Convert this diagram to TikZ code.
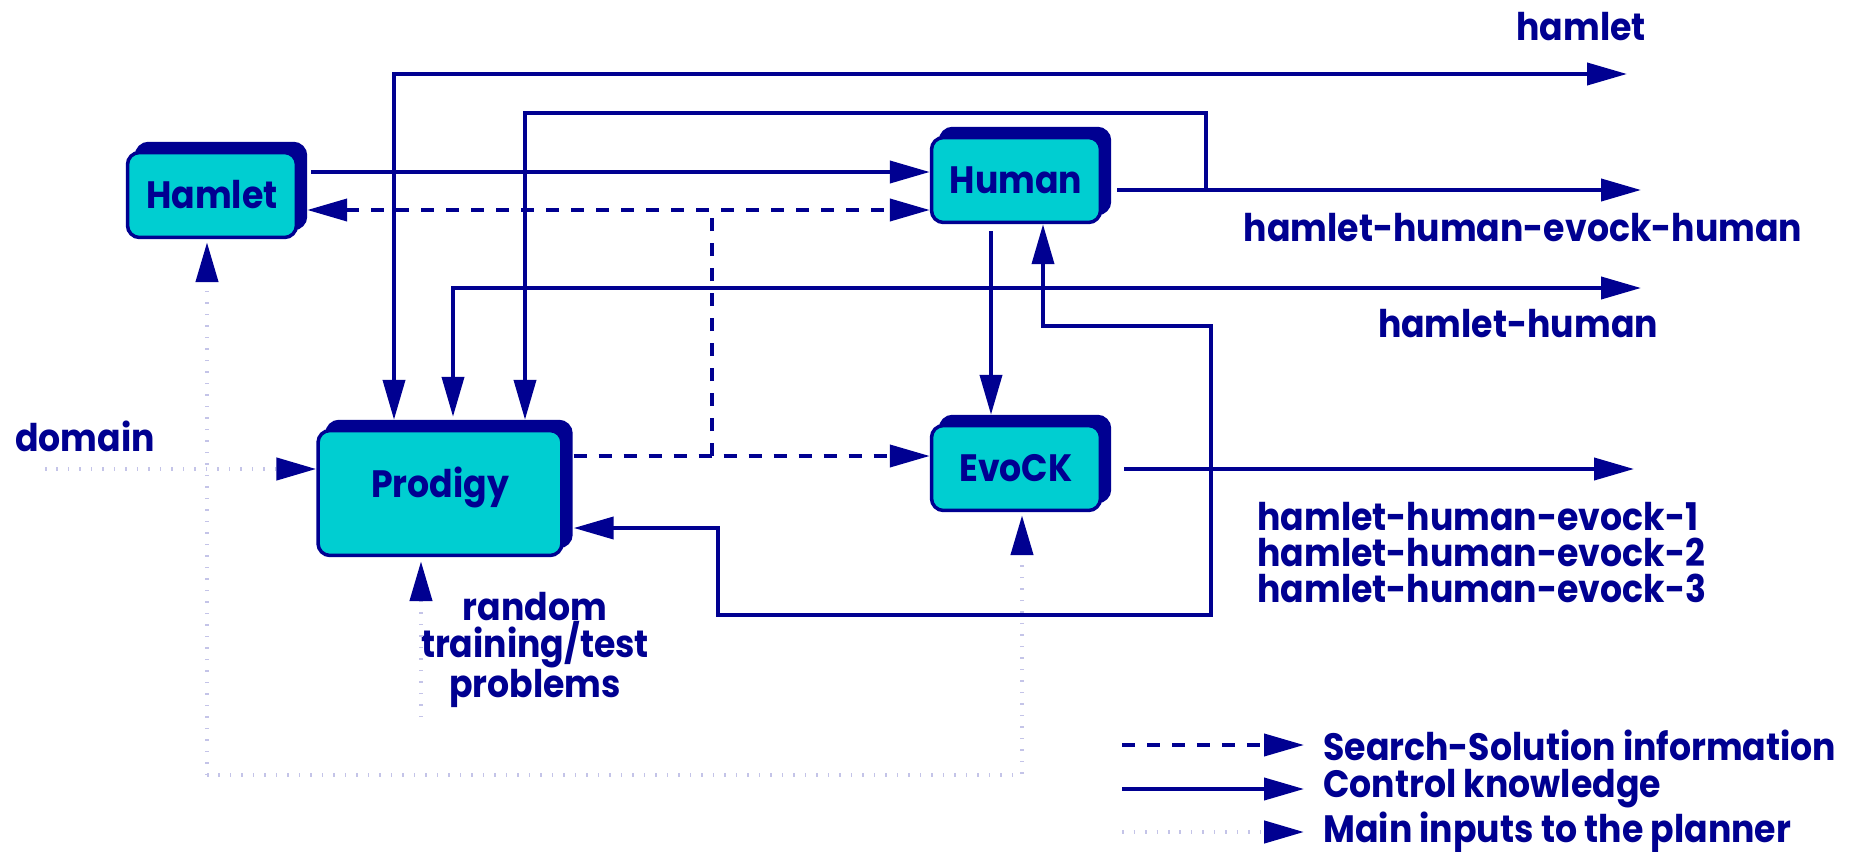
\documentclass[tikz,border=0pt]{standalone}
\usepackage{fontspec}
\setmainfont{Poppins}[FakeStretch=0.91]
\usetikzlibrary{arrows.meta,shadows}

\definecolor{ckblue}{RGB}{0,0,145}
\definecolor{boxcyan}{RGB}{0,206,209}
\definecolor{inpgray}{RGB}{196,196,232}
\newcommand\lblfont{\fontsize{21.7pt}{20.5pt}\selectfont\bfseries}

\tikzset{
  planner/.style={draw=ckblue, fill=boxcyan, line width=0.07cm, rounded corners=0.24cm,
    minimum width=3.38cm, minimum height=1.7cm, text=ckblue, font=\lblfont,
    copy shadow={shadow xshift=0.18cm, shadow yshift=0.18cm, fill=ckblue, draw=ckblue}},
  ctrl/.style={ckblue, line width=0.08cm},
  srch/.style={ckblue, line width=0.08cm, dash pattern=on 0.26cm off 0.24cm},
  inp/.style={inpgray, line width=0.09cm, dash pattern=on 0.03cm off 0.2cm,
    -{Triangle[length=8mm,width=4.4mm,ckblue]}},
  lbl/.style={text=ckblue, font=\lblfont, inner sep=0pt},
}

\begin{document}
\begin{tikzpicture}[x=0.02cm, y=-0.02cm, >={Triangle[length=8mm,width=4.4mm]}]
\useasboundingbox (0,0) rectangle (1860,852);

% Learners and planner
\node[planner] (hamlet) at (212,195) {Hamlet};
\node[planner] (human) at (1016,180) {Human};
\node[planner, minimum width=4.88cm, minimum height=2.5cm] (prodigy) at (440,493)
  {\raisebox{0.42cm}{Prodigy}};
\node[planner] (evock) at (1016,468) {EvoCK};

% Outputs
\node[lbl] (outHamlet) at (1581,27) {hamlet};
\node[lbl] (outHHEH) at (1523,228) {hamlet-human-evock-human};
\node[lbl] (outHH) at (1518,324) {hamlet-human};
\node[lbl, anchor=west, align=left] (outHHE) at (1257,553)
  {hamlet-human-evock-1\\hamlet-human-evock-2\\hamlet-human-evock-3};
\node[lbl] (domain) at (85,436) {domain};
\node[lbl, align=center, font=\fontsize{21.7pt}{21pt}\selectfont\bfseries] (problems) at (535,650)
  {random\\training/test\\problems};

\coordinate (endHamlet) at (1627,74);
\coordinate (endHHEH) at (1641,190);
\coordinate (endHH) at (1641,288);
\coordinate (endHHE) at (1634,469);

% Control knowledge
\draw[ctrl,->,shorten <=0.26cm] (hamlet.east |- 0,172) -- (human.west |- 0,172);
\draw[ctrl,<->,shorten <=0.18cm] (prodigy.north -| 394,0) |- (endHamlet);
\draw[ctrl,->,shorten <=0.3cm] (human.east |- 0,190) -- (endHHEH);
\coordinate (forkHHEH) at (1206,190);
\draw[ctrl,->,shorten >=0.18cm] (forkHHEH) |- (525,113) -- (prodigy.north -| 525,0);
\draw[ctrl,<->,shorten <=0.24cm] (prodigy.north -| 453,0) |- (endHH);
\draw[ctrl,->,shorten <=0.14cm,shorten >=0.18cm] (human.south -| 991,0) -- (evock.north -| 991,0);
\draw[ctrl,->,shorten <=0.44cm] (evock.east |- endHHE) -- (endHHE);
\coordinate (backA) at (1211,326);
\coordinate (backB) at (718,615);
\draw[ctrl,<->,shorten >=0.2cm] (human.south -| 1043,0) |- (backA) |- (backB)
  |- (prodigy.east |- 0,528);

% Search-solution information
\draw[srch,<->,shorten <=0.18cm] (hamlet.east |- 0,210) -- (human.west |- 0,210);
\coordinate (forkSrch) at (712,456);
\draw[srch,->,shorten <=0.2cm] (prodigy.east |- forkSrch) -- (evock.west |- forkSrch);
\draw[srch] (forkSrch) -- (forkSrch |- 0,210);

% Main inputs
\coordinate (domainIn) at (45,469);
\coordinate (cornerL) at (207,775);
\coordinate (problemsIn) at (421,717);
\draw[inp] (domainIn) -- (prodigy.west |- domainIn);
\draw[inp, shorten >=0.06cm] (cornerL) -- (hamlet.south -| cornerL);
\draw[inp, shorten >=0.06cm] (cornerL) -| (evock.south -| 1022,0);
\draw[inp, shorten >=0.08cm] (problemsIn) -- (prodigy.south -| problemsIn);

% Key
\node[lbl, anchor=west] (keySrch) at (1323,745) {Search-Solution information};
\node[lbl, anchor=west] (keyCtrl) at (1323,789) {Control knowledge};
\node[lbl, anchor=west] (keyInp) at (1323,832) {Main inputs to the planner};
\draw[srch,->,shorten >=0.38cm] (keySrch.west -| 1122,0) -- (keySrch.west);
\draw[ctrl,->,shorten >=0.38cm] (keyCtrl.west -| 1122,0) -- (keyCtrl.west);
\draw[inp,shorten >=0.38cm] (keyInp.west -| 1122,0) -- (keyInp.west);
\end{tikzpicture}
\end{document}
